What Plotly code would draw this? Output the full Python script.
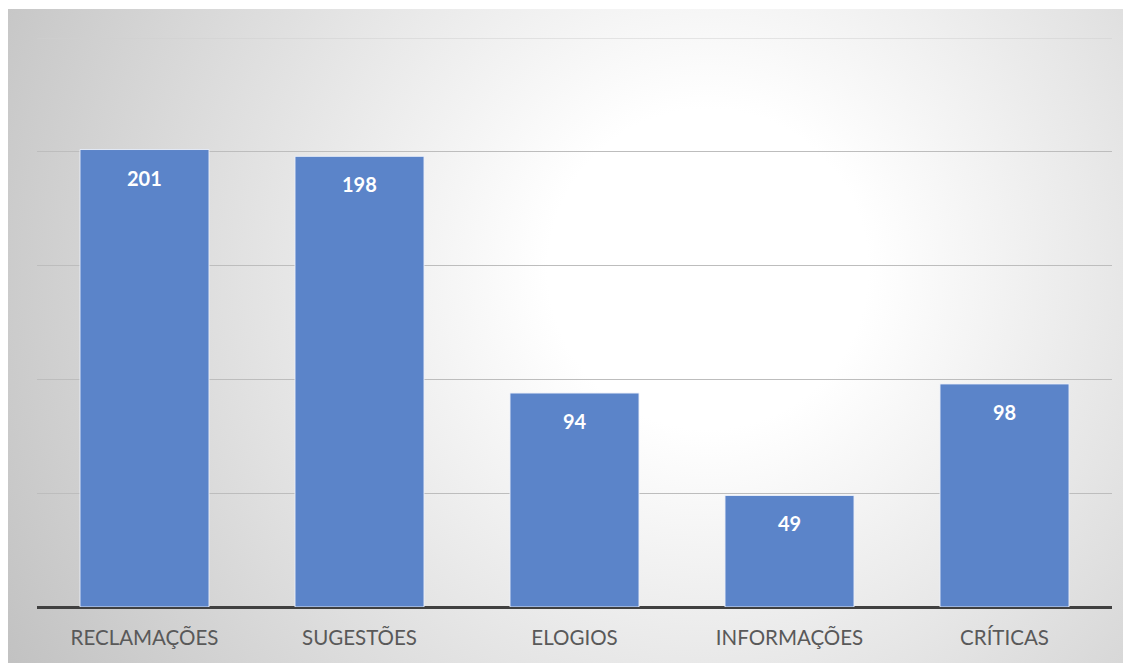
import base64
import plotly.graph_objects as go

categories = ["RECLAMAÇÕES", "SUGESTÕES", "ELOGIOS", "INFORMAÇÕES", "CRÍTICAS"]
values = [201, 198, 94, 49, 98]
y_ticks = [0, 50, 100, 150, 200, 250]

# page body has an 8px margin, so the figure is drawn 8px in from top/left
W, H = 1123, 655
L, R, T, B = 29, 19, 30, 56
pw, ph = W - L - R, H - T - B

# chart-area background (radial gradient) in figure pixel box
ax0, ay0, ax1, ay1 = 0, 1, 1123, 655
aw, ah = ax1 - ax0, ay1 - ay0
svg = f'''<svg xmlns="http://www.w3.org/2000/svg" width="{aw}" height="{ah}" viewBox="0 0 {aw} {ah}" preserveAspectRatio="none">
<defs><radialGradient id="g" gradientUnits="userSpaceOnUse" cx="700" cy="260" r="800">
<stop offset="0" stop-color="#ffffff"/><stop offset="0.2" stop-color="#ffffff"/>
<stop offset="1" stop-color="#c2c2c2"/></radialGradient></defs>
<rect x="0" y="0" width="{aw}" height="{ah}" fill="url(#g)"/></svg>'''
src = "data:image/svg+xml;base64," + base64.b64encode(svg.encode()).decode()

px2x = lambda p: (p - L) / pw
px2y = lambda p: (H - B - p) / ph

fig = go.Figure()
fig.add_trace(go.Bar(
    x=categories, y=values,
    marker=dict(color="#5b84c9", line=dict(color="rgba(235,240,250,0.9)", width=1)),
    hoverinfo="x+y",
))

for c, v in zip(categories, values):
    fig.add_annotation(x=c, y=v, text=f"<b>{v}</b>", showarrow=False,
                       yanchor="middle", yshift=-28,
                       font=dict(family="Lato, Calibri, sans-serif", size=20, color="#ffffff"))

# top gridline (at the range edge, not drawn by the axis itself)
fig.add_shape(type="line", xref="paper", yref="y", x0=0, x1=1,
              y0=y_ticks[-1], y1=y_ticks[-1], line=dict(color="#cfcfcf", width=1),
              layer="below")

fig.add_layout_image(dict(
    source=src, xref="paper", yref="paper",
    x=px2x(ax0), y=px2y(ay0), sizex=px2x(ax1) - px2x(ax0), sizey=px2y(ay0) - px2y(ay1),
    xanchor="left", yanchor="top", sizing="stretch", layer="below",
))

fig.update_layout(
    width=W, height=H,
    margin=dict(l=L, r=R, t=T, b=B),
    paper_bgcolor="#ffffff", plot_bgcolor="rgba(0,0,0,0)",
    bargap=0.4, showlegend=False,
    font=dict(family="Lato, Calibri, sans-serif"),
    xaxis=dict(showgrid=False, tickfont=dict(size=20.5, color="#595959"),
               ticks="", showline=False, zeroline=False, ticklabelstandoff=16),
    yaxis=dict(range=[0, 250], tickvals=y_ticks, showticklabels=False,
               showgrid=True, gridcolor="#bdbdbd", gridwidth=1,
               zeroline=True, zerolinecolor="#404040", zerolinewidth=3,
               showline=False),
)

fig.write_html("out.html")
